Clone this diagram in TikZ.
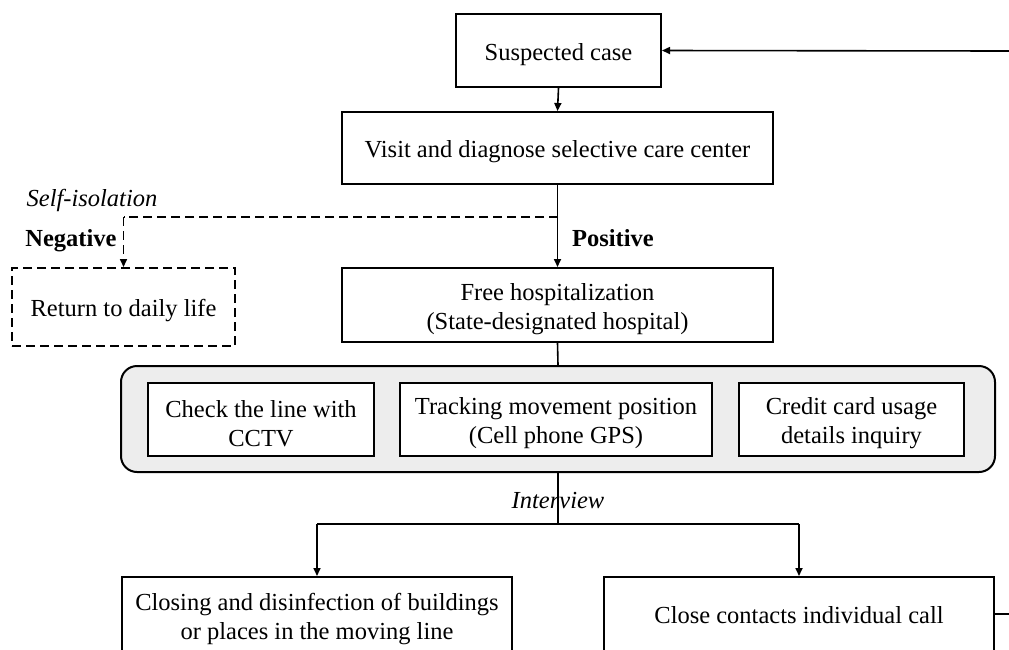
\documentclass[tikz,border=0pt]{standalone}
\usepackage{fontspec}
\setmainfont{Liberation Serif}
\usetikzlibrary{arrows.meta}
\tikzset{
  box/.style={draw=black, line width=2pt, fill=white, align=center, inner sep=0pt},
  dbox/.style={box, dash pattern=on 9pt off 5pt},
  conn/.style={line width=1.6pt},
  arr/.style={conn, -{Triangle[length=8pt,width=7pt]}},
  lbl/.style={inner sep=0pt, anchor=base},
  low/.style={yshift=-4pt},
}
\begin{document}
\begin{tikzpicture}[x=1pt,y=-1pt,font=\fontsize{24.5}{29}\selectfont]
\useasboundingbox (0,0) rectangle (1009,649);
\clip (0,0) rectangle (1009,649);
% grey container
\node[draw=black, line width=2pt, fill=black!7, rounded corners=16pt, minimum width=874pt, minimum height=106pt] (grey) at (558,419) {};
% boxes
\node[box, minimum width=205pt, minimum height=73pt] (sus) at (558.5,50.5) {};
\node[box, minimum width=431pt, minimum height=72pt] (visit) at (557.5,148) {};
\node[dbox, minimum width=223pt, minimum height=78pt] (ret) at (123.5,307) {};
\node[box, minimum width=431pt, minimum height=74pt] (free) at (557.5,305) {};
\node[box, minimum width=226pt, minimum height=73pt] (cctv) at (261,419.5) {};
\node[box, minimum width=312pt, minimum height=73pt] (gps) at (556,419.5) {};
\node[box, minimum width=225pt, minimum height=73pt] (card) at (851.5,419.5) {};
\node[box, minimum width=390pt, minimum height=76pt] (clos) at (317,615) {};
\node[box, minimum width=390pt, minimum height=76pt] (call) at (799,615) {};
% texts
\node[align=center, low] (tsus) at (sus) {Suspected case};
\node[align=center, low] (tvisit) at (visit) {Visit and diagnose selective care center};
\node[align=center, low] (tret) at (ret) {Return to daily life};
\node[align=center, low] (tfree) at (free) {Free hospitalization\\(State-designated hospital)};
\node[align=center, low] (tcctv) at (cctv) {Check the line with\\CCTV};
\node[align=center, low] (tgps) at (gps) {Tracking movement position\\(Cell phone GPS)};
\node[align=center, low] (tcard) at (card) {Credit card usage\\details inquiry};
\node[align=center, low] (tclos) at (clos) {Closing and disinfection of buildings\\or places in the moving line};
\node[align=center] (tcall) at (call) {Close contacts individual call};
% coordinates
\coordinate (split) at (558,217);
\coordinate (negc) at (123.5,217);
\coordinate (fork) at (558,524);
\coordinate (fl) at (317,524);
\coordinate (fr) at (799,524);
\coordinate (fb) at (1009,51);
\coordinate (out) at (1009,614);
% connectors
\draw[arr] (fb) -- (sus.east);
\draw[arr] (sus.south) -- (visit.north);
\draw[arr] (visit.south) -- (free.north);
\draw[conn, dash pattern=on 9pt off 5pt] (split) -- (negc);
\draw[arr, dash pattern=on 9pt off 5pt] (negc) -- (ret.north);
\draw[conn] (free.south) -- (grey.north);
\draw[conn] (grey.south) -- (fork);
\draw[conn] (fl) -- (fr);
\draw[arr] (fl) -- (clos.north);
\draw[arr] (fr) -- (call.north);
\draw[conn] (call.east |- out) -- (out);
% labels
\node[lbl] (selfiso) at (92,206) {\itshape Self-isolation};
\node[lbl] (neg) at (71,246) {\bfseries Negative};
\node[lbl] (pos) at (613,246) {\bfseries Positive};
\node[lbl] (intv) at (558,508) {\itshape Interview};
\end{tikzpicture}
\end{document}
